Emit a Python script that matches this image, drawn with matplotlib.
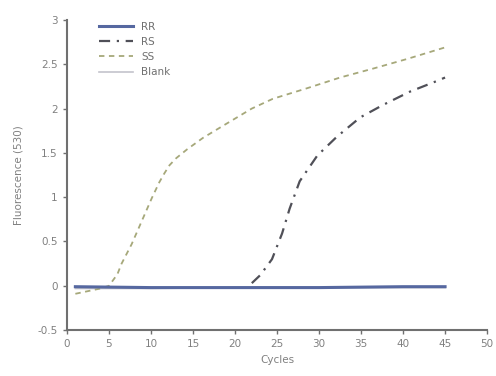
import matplotlib
matplotlib.use("Agg")
import matplotlib.pyplot as plt

# data
cyc_ss = [1, 2, 3, 4, 5, 6, 6.5, 7.7, 8.9, 10.1, 11, 11.6, 12.2, 13, 14.3, 16.2, 19, 22,
          24.5, 28.6, 32.5, 36.4, 40.5, 45]
val_ss = [-0.09, -0.07, -0.05, -0.03, 0.0, 0.13, 0.25, 0.47, 0.73, 0.99, 1.17, 1.27,
          1.36, 1.44, 1.54, 1.67, 1.83, 2.0, 2.11, 2.23, 2.35, 2.45, 2.56, 2.69]

cyc_rs = [22, 23, 24.4, 25.6, 26.5, 27.7, 29.8, 32.1, 34.9, 37.6, 40.8, 44, 45]
val_rs = [0.03, 0.12, 0.3, 0.59, 0.87, 1.18, 1.47, 1.68, 1.9, 2.04, 2.19, 2.31, 2.35]

cyc_rr = [1, 10, 20, 30, 40, 45]
val_rr = [-0.01, -0.02, -0.02, -0.02, -0.01, -0.01]

cyc_blank = [1, 10, 20, 30, 40, 45]
val_blank = [-0.03, -0.03, -0.02, -0.02, -0.02, -0.02]

fig = plt.figure(figsize=(4.96, 3.76), dpi=100)
ax = fig.add_axes([0.135, 0.122, 0.847, 0.825])

grey = "#707070"
ax.plot(cyc_blank, val_blank, color="#c4c4cc", lw=1.2, label="Blank", zorder=2)
ax.plot(cyc_ss, val_ss, color="#a6a87a", lw=1.3, ls=(0, (3, 2.5)), label="SS", zorder=3)
ax.plot(cyc_rs, val_rs, color="#505058", lw=1.6, ls=(0, (5, 3, 1, 3)), label="RS", zorder=3)
ax.plot(cyc_rr, val_rr, color="#5668a0", lw=2.2, label="RR", zorder=4)

ax.set_xlim(0, 50)
ax.set_ylim(-0.5, 3)
ax.set_xticks(range(0, 51, 5))
ax.set_yticks([-0.5, 0, 0.5, 1, 1.5, 2, 2.5, 3])
ax.set_yticklabels(["-0.5", "0", "0.5", "1", "1.5", "2", "2.5", "3"])

for s in ["top", "right"]:
    ax.spines[s].set_visible(False)
for s in ["left", "bottom"]:
    ax.spines[s].set_color(grey)
    ax.spines[s].set_linewidth(1.5)
ax.tick_params(colors=grey, labelcolor="#808080", labelsize=7.5, length=3, width=1)

ax.set_xlabel("Cycles", color="#808080", fontsize=7.5, labelpad=4)
ax.set_ylabel("Fluorescence (530)", color="#808080", fontsize=7.5, labelpad=10)

h, l = ax.get_legend_handles_labels()
order = [3, 2, 1, 0]
ax.legend([h[i] for i in order], [l[i] for i in order], loc="upper left",
          bbox_to_anchor=(0.055, 1.025), frameon=False, fontsize=7.5,
          labelcolor="#707070", handlelength=3.2, labelspacing=0.5)

fig.savefig("out.png", dpi=100)
